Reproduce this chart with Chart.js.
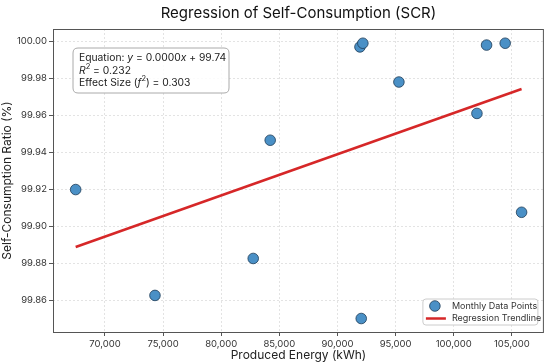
<!DOCTYPE html>
<html><head><meta charset="utf-8">
<script src="https://cdn.jsdelivr.net/npm/chart.js@4/dist/chart.umd.min.js"></script>
<style>html,body{margin:0;padding:0;background:#fff}#wrap{width:550px;height:363px}</style>
</head><body><div id="wrap"><canvas id="c" width="550" height="363"></canvas></div>
<script>
const producedEnergy = [67480, 74300, 82750, 84210, 91930, 92180, 95280, 101990, 102820, 104420, 105830, 92040];
const selfConsumption = [99.9198, 99.8625, 99.8825, 99.9465, 99.9970, 99.9990, 99.9780, 99.9610, 99.9980, 99.9990, 99.9075, 99.8500];
const trendX = [67480, 105830];
const trendY = [99.8887, 99.9742];
const xTicks = [70000, 75000, 80000, 85000, 90000, 95000, 100000, 105000];
const yTicks = [99.86, 99.88, 99.90, 99.92, 99.94, 99.96, 99.98, 100.00];
const eqText = {slope: "0.0000", intercept: "99.74", r2: "0.232", f2: "0.303"};
const titleText = 'Regression of Self-Consumption (SCR)';

const FONT = "Inter, 'Open Sans', sans-serif";
const TXT = '#333333';

const framePlugin = {
  id: 'frame',
  afterDatasetsDraw(chart) {
    const {ctx, chartArea: a} = chart;
    ctx.save();
    ctx.strokeStyle = '#555555';
    ctx.lineWidth = 1;
    ctx.strokeRect(a.left + 0.5, a.top + 0.5, a.right - a.left - 1, a.bottom - a.top);
    ctx.restore();
  }
};

const titlePlugin = {
  id: 'axTitle',
  afterDraw(chart) {
    const {ctx, chartArea: a} = chart;
    ctx.save();
    ctx.fillStyle = '#111111';
    ctx.font = '15px ' + FONT;
    ctx.textAlign = 'center';
    ctx.textBaseline = 'middle';
    ctx.fillText(titleText, (a.left + a.right) / 2, 13);
    ctx.restore();
  }
};

function roundRect(ctx, x, y, w, h, r) {
  ctx.beginPath();
  ctx.moveTo(x + r, y);
  ctx.lineTo(x + w - r, y); ctx.quadraticCurveTo(x + w, y, x + w, y + r);
  ctx.lineTo(x + w, y + h - r); ctx.quadraticCurveTo(x + w, y + h, x + w - r, y + h);
  ctx.lineTo(x + r, y + h); ctx.quadraticCurveTo(x, y + h, x, y + h - r);
  ctx.lineTo(x, y + r); ctx.quadraticCurveTo(x, y, x + r, y);
  ctx.closePath();
}

function drawRuns(ctx, runs, x, y) {
  for (const r of runs) {
    ctx.font = (r.italic ? 'italic ' : '') + (r.size || 10.3) + 'px ' + FONT;
    ctx.fillText(r.t, x, y + (r.dy || 0));
    x += ctx.measureText(r.t).width;
  }
}

const annotPlugin = {
  id: 'annot',
  afterDraw(chart) {
    const {ctx, chartArea: a} = chart;
    const bx = a.left + 20, by = a.top + 19, bw = 156, bh = 45;
    ctx.save();
    roundRect(ctx, bx, by, bw, bh, 5);
    ctx.fillStyle = 'rgba(255,255,255,0.85)';
    ctx.fill();
    ctx.strokeStyle = '#aaaaaa';
    ctx.lineWidth = 1;
    ctx.stroke();
    ctx.fillStyle = '#222222';
    ctx.textBaseline = 'middle';
    const tx = bx + 6;
    drawRuns(ctx, [{t: 'Equation: '}, {t: 'y', italic: true}, {t: ' = ' + eqText.slope}, {t: 'x', italic: true}, {t: ' + ' + eqText.intercept}], tx, by + 10);
    drawRuns(ctx, [{t: 'R', italic: true}, {t: '2', size: 7.5, dy: -4}, {t: ' = ' + eqText.r2}], tx, by + 22.5);
    drawRuns(ctx, [{t: 'Effect Size ('}, {t: 'f', italic: true}, {t: '2', size: 7.5, dy: -4}, {t: ') = ' + eqText.f2}], tx, by + 35);
    ctx.restore();
  }
};

const legendPlugin = {
  id: 'customLegend',
  afterDraw(chart) {
    const {ctx, chartArea: a} = chart;
    const ds = chart.data.datasets;
    const w = 115, h = 26;
    const x = a.right - 6 - w, y = a.bottom - 7 - h;
    ctx.save();
    roundRect(ctx, x, y, w, h, 3);
    ctx.fillStyle = 'rgba(255,255,255,0.85)';
    ctx.fill();
    ctx.strokeStyle = '#cccccc';
    ctx.lineWidth = 1;
    ctx.stroke();
    ctx.beginPath();
    ctx.arc(x + 12, y + 7, ds[0].pointRadius, 0, Math.PI * 2);
    ctx.fillStyle = ds[0].backgroundColor;
    ctx.fill();
    ctx.strokeStyle = ds[0].borderColor;
    ctx.lineWidth = ds[0].borderWidth;
    ctx.stroke();
    ctx.beginPath();
    ctx.moveTo(x + 3, y + 19.5);
    ctx.lineTo(x + 23, y + 19.5);
    ctx.strokeStyle = ds[1].borderColor;
    ctx.lineWidth = ds[1].borderWidth;
    ctx.stroke();
    ctx.fillStyle = TXT;
    ctx.font = '9px ' + FONT;
    ctx.textBaseline = 'middle';
    ctx.fillText(ds[0].label, x + 29, y + 7);
    ctx.fillText(ds[1].label, x + 29, y + 19.5);
    ctx.restore();
  }
};

const scatterPts = producedEnergy.map((x, i) => ({x, y: selfConsumption[i]}));
const trendPts = trendX.map((x, i) => ({x, y: trendY[i]}));

const gridOpts = {color: '#e3e3e3', tickLength: 4, tickColor: '#555555', tickBorderDash: [], tickWidth: 1};

new Chart(document.getElementById('c'), {
  type: 'scatter',
  data: {
    datasets: [
      {label: 'Monthly Data Points', data: scatterPts, pointRadius: 5.3, pointHoverRadius: 5.3,
       backgroundColor: '#4a90c6', borderColor: '#1d3b57', borderWidth: 0.8, order: 1},
      {label: 'Regression Trendline', type: 'line', data: trendPts, borderColor: '#d62728',
       backgroundColor: '#d62728', borderWidth: 2.5, pointRadius: 0, fill: false, order: 2}
    ]
  },
  options: {
    responsive: false, animation: false,
    layout: {padding: {top: 29, right: 6, left: 0, bottom: 0}},
    plugins: {
      legend: {display: false},
      tooltip: {enabled: false},
      title: {display: false}
    },
    scales: {
      x: {
        type: 'linear', min: 65530, max: 107750,
        afterFit(s) { s.height = 31; },
        afterBuildTicks(s) { s.ticks = xTicks.map(v => ({value: v})); },
        ticks: {color: TXT, padding: 2, font: {family: FONT, size: 9.5}, maxRotation: 0, autoSkip: false,
                callback: v => Number(v).toLocaleString('en-US')},
        grid: gridOpts,
        border: {display: false, dash: [2, 2]},
        title: {display: true, text: 'Produced Energy (kWh)', color: '#222222',
                font: {family: FONT, size: 12}, padding: {top: 0, bottom: 0}}
      },
      y: {
        type: 'linear', min: 99.8427, max: 100.0067,
        afterFit(s) { s.width = 53; },
        afterBuildTicks(s) { s.ticks = yTicks.map(v => ({value: v})); },
        ticks: {color: TXT, padding: 2, font: {family: FONT, size: 9.5}, autoSkip: false,
                callback: v => Number(v).toFixed(2)},
        grid: gridOpts,
        border: {display: false, dash: [2, 2]},
        title: {display: true, text: 'Self-Consumption Ratio (%)', color: '#222222',
                font: {family: FONT, size: 12}, padding: {top: 0, bottom: 0}}
      }
    }
  },
  plugins: [framePlugin, annotPlugin, legendPlugin, titlePlugin]
});
</script>
</body></html>
